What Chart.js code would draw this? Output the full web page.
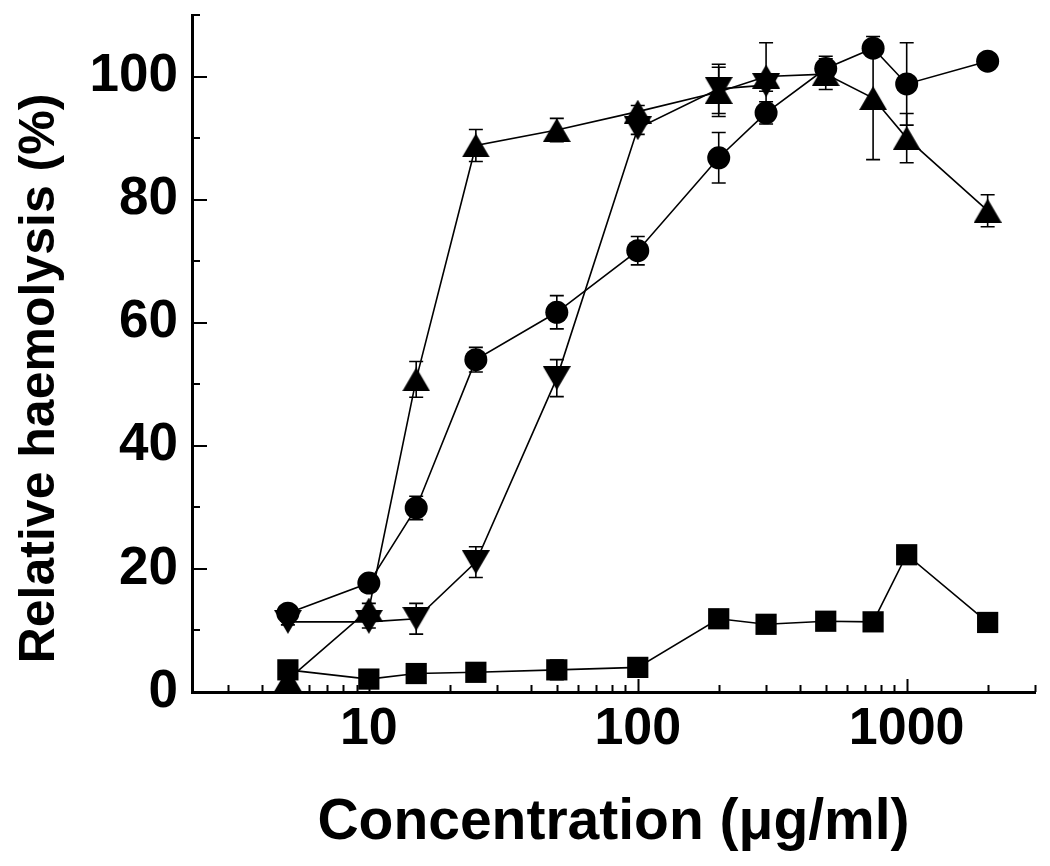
<!DOCTYPE html>
<html>
<head>
<meta charset="utf-8">
<script src="https://cdn.jsdelivr.net/npm/chart.js@4.4.0/dist/chart.umd.min.js"></script>
<style>
  html, body { margin: 0; padding: 0; background: #fff; }
  #wrap { width: 1050px; height: 866px; }
</style>
</head>
<body>
<div id="wrap"><canvas id="chart" width="1050" height="866"></canvas></div>
<script>
// concentrations (ug/ml)
const conc = [5, 10, 15, 25, 50, 100, 200, 300, 500, 750, 1000, 2000];
const concDown = [5, 10, 15, 25, 50, 100, 200, 300];

// relative haemolysis (%) and error bars
const circleVals = [12.8, 17.7, 29.9, 54.0, 61.7, 71.7, 86.8, 94.1, 101.3, 104.6, 98.8, 102.5];
const circleErr  = [0.5, 0.6, 1.9, 2.0, 2.7, 2.3, 4.1, 1.8, 2.0, 0.5, 6.7, 0.5];
const squareVals = [3.6, 2.1, 3.0, 3.2, 3.6, 4.0, 11.9, 11.0, 11.5, 11.4, 22.3, 11.3];
const squareErr  = [0.5, 0.3, 0.3, 0.3, 1.6, 0.3, 0.4, 0.4, 0.4, 0.4, 0.4, 0.3];
const upVals     = [2.0, 13.4, 50.8, 88.8, 91.3, 94.3, 97.5, 100.0, 100.4, 96.5, 90.0, 78.2];
const upErr      = [0.5, 1.0, 2.9, 2.6, 1.9, 1.0, 4.0, 5.5, 2.5, 10.0, 4.0, 2.6];
const downVals   = [11.4, 11.4, 11.9, 21.1, 51.0, 91.6, 98.0, 98.6];
const downErr    = [0.5, 1.0, 2.5, 2.5, 3.0, 1.0, 4.0, 1.0];

// axis ticks
const xMajorTicks = [10, 100, 1000];
const xMinorTicks = [3, 4, 5, 6, 7, 8, 9, 20, 30, 40, 50, 60, 70, 80, 90,
  200, 300, 400, 500, 600, 700, 800, 900, 2000, 3000];
const yMajorTicks = [0, 20, 40, 60, 80, 100];
const yMinorTicks = [10, 30, 50, 70, 90, 110];

const FONT = "'Liberation Sans', Arial, Helvetica, sans-serif";

function toPoints(xs, ys) {
  return xs.map((x, i) => ({ x: x, y: ys[i] }));
}

// triangle markers centred on their box, like the original plot
function triangle(down) {
  const w = 28, h = 24;
  const c = document.createElement('canvas');
  c.width = w; c.height = h;
  const g = c.getContext('2d');
  g.fillStyle = '#000';
  g.beginPath();
  if (down) {
    g.moveTo(0, 0); g.lineTo(w, 0); g.lineTo(w / 2, h);
  } else {
    g.moveTo(w / 2, 0); g.lineTo(w, h); g.lineTo(0, h);
  }
  g.closePath();
  g.fill();
  return c;
}

//------------error bars------------
const errorBars = {
  id: 'errorBars',
  beforeDatasetsDraw(chart) {
    const ctx = chart.ctx;
    const xs = chart.scales.x, ys = chart.scales.y;
    ctx.save();
    ctx.strokeStyle = '#000';
    ctx.lineWidth = 1.6;
    chart.data.datasets.forEach((ds) => {
      if (!ds.errors) return;
      ds.data.forEach((p, i) => {
        const e = ds.errors[i];
        const px = xs.getPixelForValue(p.x);
        const top = ys.getPixelForValue(p.y + e);
        const bot = ys.getPixelForValue(p.y - e);
        ctx.beginPath();
        ctx.moveTo(px, top); ctx.lineTo(px, bot);
        ctx.moveTo(px - 7, top); ctx.lineTo(px + 7, top);
        ctx.moveTo(px - 7, bot); ctx.lineTo(px + 7, bot);
        ctx.stroke();
      });
    });
    ctx.restore();
  }
};

//------------inward ticks------------
const axisTicks = {
  id: 'axisTicks',
  afterDraw(chart) {
    const ctx = chart.ctx;
    const xs = chart.scales.x, ys = chart.scales.y;
    const area = chart.chartArea;
    ctx.save();
    ctx.strokeStyle = '#000';
    ctx.lineWidth = 2;
    ctx.beginPath();
    xMajorTicks.forEach((v) => {
      const px = Math.round(xs.getPixelForValue(v)) + 0.5;
      ctx.moveTo(px, area.bottom); ctx.lineTo(px, area.bottom - 13);
    });
    xMinorTicks.forEach((v) => {
      const px = Math.round(xs.getPixelForValue(v)) + 0.5;
      ctx.moveTo(px, area.bottom); ctx.lineTo(px, area.bottom - 7);
    });
    yMajorTicks.forEach((v) => {
      const py = Math.round(ys.getPixelForValue(v));
      ctx.moveTo(area.left, py); ctx.lineTo(area.left + 15, py);
    });
    yMinorTicks.forEach((v) => {
      const py = Math.round(ys.getPixelForValue(v));
      ctx.moveTo(area.left, py); ctx.lineTo(area.left + 8, py);
    });
    ctx.stroke();
    ctx.restore();
  }
};

const ctx = document.getElementById('chart').getContext('2d');

const common = {
  showLine: true,
  borderColor: '#000',
  backgroundColor: '#000',
  pointBackgroundColor: '#000',
  pointBorderColor: '#000',
  borderWidth: 1.6,
  pointBorderWidth: 0,
  clip: false
};

const data = {
  datasets: [
    Object.assign({}, common, {
      label: 'circle',
      data: toPoints(conc, circleVals),
      errors: circleErr,
      pointStyle: 'circle',
      pointRadius: 11.5
    }),
    Object.assign({}, common, {
      label: 'square',
      data: toPoints(conc, squareVals),
      errors: squareErr,
      pointStyle: 'rect',
      pointRadius: 15
    }),
    Object.assign({}, common, {
      label: 'up',
      data: toPoints(conc, upVals),
      errors: upErr,
      pointStyle: triangle(false),
      pointRadius: 14
    }),
    Object.assign({}, common, {
      label: 'down',
      data: toPoints(concDown, downVals),
      errors: downErr,
      pointStyle: triangle(true),
      pointRadius: 14
    })
  ]
};

const config = {
  type: 'scatter',
  data: data,
  options: {
    responsive: false,
    animation: false,
    layout: { padding: { top: 12, right: 13, left: 0, bottom: 0 } },
    plugins: {
      legend: { display: false },
      tooltip: { enabled: false }
    },
    scales: {
      x: {
        type: 'logarithmic',
        min: 2.2,
        max: 3000,
        afterBuildTicks: (s) => { s.ticks = xMajorTicks.map((v) => ({ value: v })); },
        afterFit: (s) => {
          s.height = 174;
          s.paddingLeft = 0; s.paddingRight = 0;
        },
        ticks: {
          callback: (v) => String(v),
          color: '#000',
          font: { family: FONT, size: 52, weight: 'bold' },
          padding: 6,
          maxRotation: 0,
          autoSkip: false
        },
        grid: { drawOnChartArea: false, drawTicks: false },
        border: { color: '#000', width: 3 },
        title: {
          display: true,
          text: 'Concentration (μg/ml)',
          color: '#000',
          font: { family: FONT, size: 57, weight: 'bold' },
          padding: { top: 0, bottom: 9 }
        }
      },
      y: {
        min: 0,
        max: 110,
        afterBuildTicks: (s) => { s.ticks = yMajorTicks.map((v) => ({ value: v })); },
        afterFit: (s) => {
          s.width = 192;
          s.paddingTop = 0; s.paddingBottom = 0;
        },
        ticks: {
          color: '#000',
          font: { family: FONT, size: 53, weight: 'bold' },
          padding: 14
        },
        grid: { drawOnChartArea: false, drawTicks: false },
        border: { color: '#000', width: 3 },
        title: {
          display: true,
          // two en spaces at the end push the centred title a little lower
          text: 'Relative haemolysis (%)\u2002\u2002',
          color: '#000',
          font: { family: FONT, size: 50, weight: 'bold' },
          padding: { top: 10, bottom: 0 }
        }
      }
    }
  },
  plugins: [errorBars, axisTicks]
};

const myChart = new Chart(ctx, config);
</script>
</body>
</html>
